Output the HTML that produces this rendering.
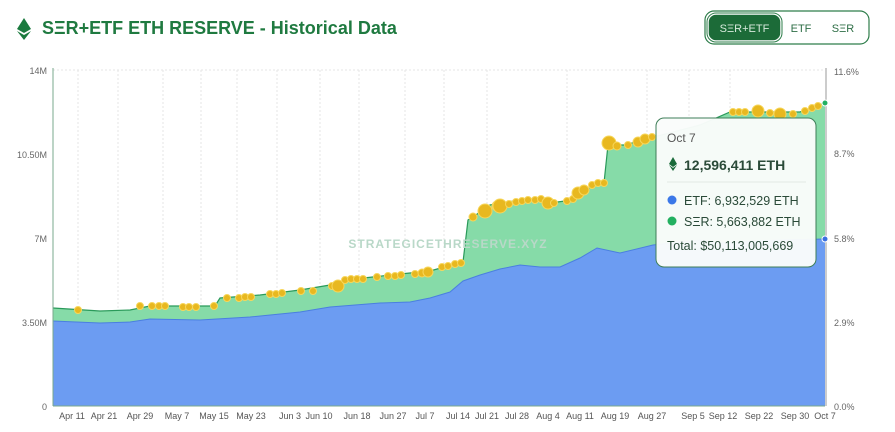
<!DOCTYPE html>
<html><head><meta charset="utf-8"><style>
body{margin:0;background:#fff;width:895px;height:427px;overflow:hidden;font-family:"Liberation Sans",sans-serif}
</style></head><body>
<svg width="895" height="427" viewBox="0 0 895 427" xmlns="http://www.w3.org/2000/svg" font-family="Liberation Sans, sans-serif">
<!-- title -->
<polygon points="24,18 31,29 24,33 17,29" fill="#1a7a3e"/>
<polygon points="17,31 24,35 31,31 24,40" fill="#1a7a3e"/>
<text x="42" y="34" font-size="18" font-weight="bold" fill="#1f7a40">S&#926;R+ETF ETH RESERVE - Historical Data</text>
<!-- toggle -->
<rect x="705" y="11" width="164" height="33" rx="9" fill="#fff" stroke="#2e7d4a" stroke-width="1.2"/>
<rect x="708" y="14" width="73" height="27" rx="8" fill="#1c6b38" stroke="#fff" stroke-width="1.5"/>
<rect x="707" y="13" width="75" height="29" rx="9" fill="none" stroke="#2e7d4a" stroke-width="1"/>
<text x="744.5" y="32" font-size="11" fill="#d7eadc" text-anchor="middle">S&#926;R+ETF</text>
<text x="801" y="32" font-size="11" fill="#2e6e46" text-anchor="middle">ETF</text>
<text x="843" y="32" font-size="11" fill="#2e6e46" text-anchor="middle">S&#926;R</text>
<!-- grid -->
<g stroke="#e6e6e6" stroke-dasharray="2,2" stroke-width="1">
<line x1="53" y1="70" x2="825" y2="70"/>
<line x1="78" y1="70" x2="78" y2="406"/><line x1="118" y1="70" x2="118" y2="406"/><line x1="163" y1="70" x2="163" y2="406"/>
<line x1="201" y1="70" x2="201" y2="406"/><line x1="237" y1="70" x2="237" y2="406"/><line x1="277" y1="70" x2="277" y2="406"/>
<line x1="320" y1="70" x2="320" y2="406"/><line x1="359" y1="70" x2="359" y2="406"/><line x1="405" y1="70" x2="405" y2="406"/>
<line x1="444" y1="70" x2="444" y2="406"/><line x1="487" y1="70" x2="487" y2="406"/><line x1="567" y1="70" x2="567" y2="406"/>
<line x1="647" y1="70" x2="647" y2="406"/><line x1="689" y1="70" x2="689" y2="406"/><line x1="730" y1="70" x2="730" y2="406"/>
</g>
<!-- green area -->
<path d="M53,308 L100,311 L130,310 L150,306 L215,306 L220,298 L260,295 L300,290 L330,285 L345,280 L400,274 L430,271 L455,264 L463,262 L468,220 L473,217 L490,205 L520,200 L540,199 L550,203 L565,201 L580,192 L600,183 L604,183 L608,145 L625,145 L650,138 L700,125 L730,112 L800,112 L825,103 L825,406 L53,406 Z" fill="#86dba8"/>
<path d="M53,308 L100,311 L130,310 L150,306 L215,306 L220,298 L260,295 L300,290 L330,285 L345,280 L400,274 L430,271 L455,264 L463,262 L468,220 L473,217 L490,205 L520,200 L540,199 L550,203 L565,201 L580,192 L600,183 L604,183 L608,145 L625,145 L650,138 L700,125 L730,112 L800,112 L825,103" fill="none" stroke="#2a9a5a" stroke-width="1.2"/>
<!-- blue area -->
<path d="M53,321 L100,323 L130,322 L150,319 L200,320 L250,317 L300,312 L330,307 L380,303 L410,302 L430,298 L450,292 L463,281 L480,275 L500,269 L520,265 L540,267 L560,267 L580,258 L597,248 L620,253 L653,245 L700,240 L720,243 L780,240 L825,239 L825,406 L53,406 Z" fill="#6c9cf2"/>
<path d="M53,321 L100,323 L130,322 L150,319 L200,320 L250,317 L300,312 L330,307 L380,303 L410,302 L430,298 L450,292 L463,281 L480,275 L500,269 L520,265 L540,267 L560,267 L580,258 L597,248 L620,253 L653,245 L700,240 L720,243 L780,240 L825,239" fill="none" stroke="#4a7fe0" stroke-width="1"/>
<text x="448" y="248" font-size="12" font-weight="bold" fill="#b9d8c8" text-anchor="middle" letter-spacing="1">STRATEGICETHRESERVE.XYZ</text>
<!-- bubbles -->
<g fill="#e8b820" stroke="#f7d65a" stroke-width="1">
<circle cx="78" cy="310" r="3.5"/>
<circle cx="140" cy="306" r="3.5"/><circle cx="152" cy="306" r="3.5"/><circle cx="159" cy="306" r="3.5"/><circle cx="165" cy="306" r="3.5"/>
<circle cx="183" cy="307" r="3.5"/><circle cx="189" cy="307" r="3.5"/><circle cx="196" cy="307" r="3.5"/><circle cx="214" cy="306" r="3.5"/>
<circle cx="227" cy="298" r="3.5"/><circle cx="239" cy="298" r="3.5"/><circle cx="245" cy="297" r="3.5"/><circle cx="251" cy="297" r="3.5"/>
<circle cx="270" cy="294" r="3.5"/><circle cx="276" cy="294" r="3.5"/><circle cx="282" cy="293" r="3.5"/><circle cx="301" cy="291" r="3.5"/><circle cx="313" cy="291" r="3.5"/>
<circle cx="332" cy="286" r="3.5"/><circle cx="338" cy="286" r="6"/><circle cx="345" cy="280" r="3.5"/><circle cx="351" cy="279" r="3.5"/><circle cx="357" cy="279" r="3.5"/><circle cx="363" cy="279" r="3.5"/>
<circle cx="377" cy="277" r="3.5"/><circle cx="388" cy="276" r="3.5"/><circle cx="395" cy="276" r="3.5"/><circle cx="401" cy="275" r="3.5"/>
<circle cx="415" cy="274" r="3.5"/><circle cx="422" cy="273" r="4"/><circle cx="428" cy="272" r="5"/><circle cx="442" cy="267" r="3.5"/><circle cx="448" cy="266" r="3.5"/><circle cx="455" cy="264" r="3.5"/><circle cx="461" cy="263" r="3.5"/>
<circle cx="473" cy="217" r="4"/><circle cx="485" cy="211" r="7"/><circle cx="497" cy="206" r="5"/><circle cx="500" cy="206" r="7"/><circle cx="509" cy="204" r="3.5"/><circle cx="516" cy="202" r="3.5"/><circle cx="522" cy="201" r="3.5"/><circle cx="528" cy="200" r="3.5"/><circle cx="535" cy="200" r="3.5"/><circle cx="541" cy="199" r="3.5"/>
<circle cx="548" cy="203" r="6"/><circle cx="554" cy="203" r="3.5"/><circle cx="567" cy="201" r="3.5"/><circle cx="573" cy="199" r="3.5"/><circle cx="578" cy="193" r="6"/><circle cx="584" cy="190" r="5"/><circle cx="592" cy="185" r="3.5"/><circle cx="598" cy="183" r="3.5"/><circle cx="604" cy="183" r="3.5"/>
<circle cx="609" cy="143" r="7"/><circle cx="617" cy="146" r="4"/><circle cx="628" cy="145" r="3.5"/><circle cx="638" cy="142" r="5"/><circle cx="645" cy="139" r="5"/><circle cx="652" cy="137" r="3.5"/>
<circle cx="733" cy="112" r="3.5"/><circle cx="739" cy="112" r="3.5"/><circle cx="745" cy="112" r="3.5"/><circle cx="758" cy="111" r="6"/><circle cx="770" cy="113" r="3.5"/><circle cx="780" cy="114" r="6"/><circle cx="793" cy="114" r="3.5"/><circle cx="805" cy="111" r="3.5"/><circle cx="812" cy="108" r="3.5"/><circle cx="818" cy="106" r="3.5"/>
</g>
<!-- axes -->
<line x1="53" y1="68" x2="53" y2="406" stroke="#7aa88c" stroke-width="1"/>
<line x1="53" y1="406" x2="825" y2="406" stroke="#7aa88c" stroke-width="1"/>
<line x1="826" y1="68" x2="826" y2="406" stroke="#999" stroke-width="1"/>
<circle cx="825" cy="103" r="3" fill="#22b060" stroke="#fff"/>
<circle cx="825" cy="239" r="3" fill="#3a70e0" stroke="#fff"/>
<g font-size="9" fill="#666" text-anchor="end">
<text x="47" y="74">14M</text><text x="47" y="158">10.50M</text><text x="47" y="242">7M</text><text x="47" y="326">3.50M</text><text x="47" y="410">0</text>
</g>
<g font-size="9" fill="#666">
<text x="834" y="75">11.6%</text><text x="834" y="157">8.7%</text><text x="834" y="242">5.8%</text><text x="834" y="326">2.9%</text><text x="834" y="410">0.0%</text>
</g>
<g font-size="9" fill="#555" text-anchor="middle">
<text x="72" y="419">Apr 11</text><text x="104" y="419">Apr 21</text><text x="140" y="419">Apr 29</text><text x="177" y="419">May 7</text><text x="214" y="419">May 15</text><text x="251" y="419">May 23</text><text x="290" y="419">Jun 3</text><text x="319" y="419">Jun 10</text><text x="357" y="419">Jun 18</text><text x="393" y="419">Jun 27</text><text x="425" y="419">Jul 7</text><text x="458" y="419">Jul 14</text><text x="487" y="419">Jul 21</text><text x="517" y="419">Jul 28</text><text x="548" y="419">Aug 4</text><text x="580" y="419">Aug 11</text><text x="615" y="419">Aug 19</text><text x="652" y="419">Aug 27</text><text x="693" y="419">Sep 5</text><text x="723" y="419">Sep 12</text><text x="759" y="419">Sep 22</text><text x="795" y="419">Sep 30</text><text x="825" y="419">Oct 7</text>
</g>
<!-- tooltip -->
<rect x="656" y="118" width="160" height="149" rx="8" fill="#fafcfb" fill-opacity="0.97" stroke="#3e7e58" stroke-width="1"/>
<text x="667" y="142" font-size="12" fill="#555">Oct 7</text>
<polygon points="673,157 677,164 673,167 669,164" fill="#1a6b3a"/><polygon points="669,165 673,168 677,165 673,171" fill="#1a6b3a"/>
<text x="684" y="170" font-size="14" font-weight="bold" fill="#2a4a38">12,596,411 ETH</text>
<line x1="667" y1="182" x2="806" y2="182" stroke="#e2e8e4"/>
<circle cx="672" cy="200" r="4.5" fill="#3b78e8"/>
<text x="684" y="205" font-size="12.5" fill="#2a4a38">ETF: 6,932,529 ETH</text>
<circle cx="672" cy="221" r="4.5" fill="#22b060"/>
<text x="684" y="226" font-size="12.5" fill="#2a4a38">S&#926;R: 5,663,882 ETH</text>
<text x="667" y="250" font-size="12.5" fill="#2a4a38">Total: $50,113,005,669</text>
</svg>
</body></html>
